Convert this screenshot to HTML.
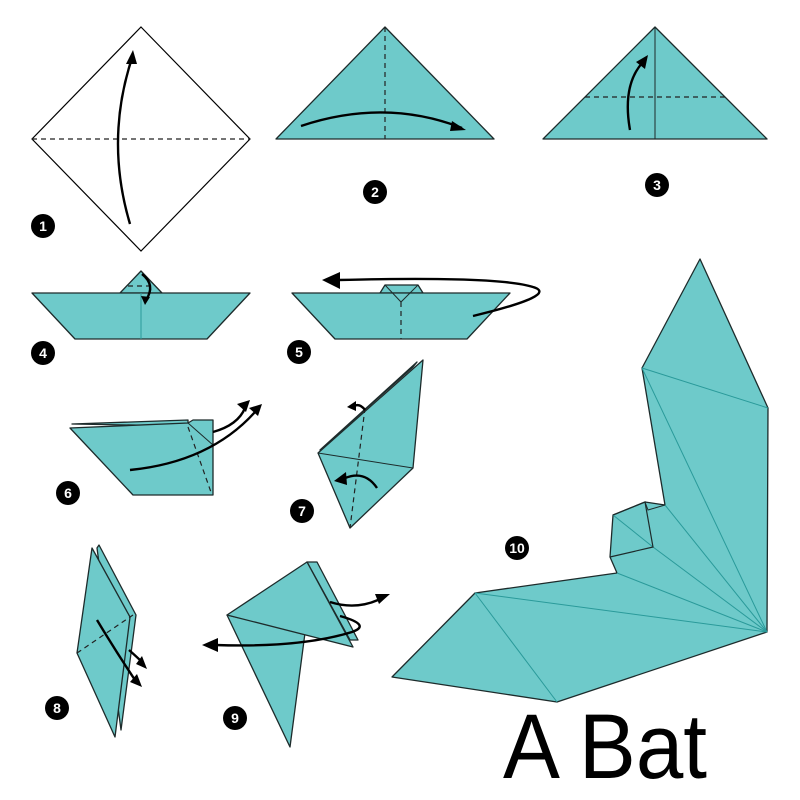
<!DOCTYPE html>
<html><head><meta charset="utf-8"><style>
html,body{margin:0;padding:0;background:#fff;width:800px;height:800px;overflow:hidden}
svg{display:block}
.p{fill:#6ecaca;stroke:#1d2b2b;stroke-width:1.3;stroke-linejoin:round}
.c{stroke:#2a9a9a;stroke-width:1;fill:none}
.d{stroke:#222;stroke-width:1.2;stroke-dasharray:5 4;fill:none}
.a{stroke:#000;stroke-width:2.4;fill:none}
.h{fill:#000}
.n circle{fill:#000}
.n text{fill:#fff;font-family:"Liberation Sans",sans-serif;font-size:14px;font-weight:bold;text-anchor:middle}
</style></head><body>
<svg width="800" height="800" viewBox="0 0 800 800">
<g>
<polygon points="141,27 250,139 141,251 32,139" fill="#fff" stroke="#000" stroke-width="1.2"/>
<line class="d" x1="32" y1="139" x2="250" y2="139"/>
<path class="a" d="M130,224 Q105,140 132,58"/>
<polygon class="h" points="133,50 126,64 137,64"/>
<g class="n"><circle cx="43" cy="226" r="12"/><text x="43" y="231">1</text></g>
</g>
<g>
<polygon class="p" points="276,139 385,27 494,139"/>
<line class="d" x1="385" y1="27" x2="385" y2="139"/>
<path class="a" d="M301,126 Q385,98 462,128"/>
<polygon class="h" points="466,130 452,121 450,131"/>
<g class="n"><circle cx="375" cy="192" r="12"/><text x="375" y="197">2</text></g>
</g>
<g>
<polygon class="p" points="543,139 655,27 767,139"/>
<line x1="655" y1="27" x2="655" y2="139" stroke="#1d2b2b" stroke-width="1"/>
<line class="d" x1="585" y1="97" x2="725" y2="97"/>
<path class="a" d="M630,130 Q622,85 643,62"/>
<polygon class="h" points="648,55 636,62 645,69"/>
<g class="n"><circle cx="657" cy="185" r="12"/><text x="657" y="190">3</text></g>
</g>
<g>
<polygon class="p" points="120,293 141,271 162,293"/>
<polygon class="p" points="32,293 250,293 207,339 75,339"/>
<line class="c" x1="141" y1="293" x2="141" y2="339"/>
<line class="d" x1="128" y1="286" x2="152" y2="286"/>
<path class="a" d="M142,274 Q156,285 146,300" stroke-width="1.6"/>
<polygon class="h" points="145,305 141,296 150,297"/>
<g class="n"><circle cx="43" cy="353" r="12"/><text x="43" y="358">4</text></g>
</g>
<g>
<polygon class="p" points="380,293 385,285 418,285 423,293"/>
<polygon class="p" points="292,293 510,293 467,339 335,339"/>
<polyline points="385,285 401,302 418,285" fill="none" stroke="#1d2b2b" stroke-width="1"/>
<line class="d" x1="401" y1="302" x2="401" y2="339"/>
<path class="a" d="M473,316 Q560,295 533,287 Q500,276 338,280"/>
<polygon class="h" points="322,280 340,272 340,289"/>
<g class="n"><circle cx="299" cy="352" r="12"/><text x="299" y="357">5</text></g>
</g>
<g>
<polygon class="p" points="72,424 188,420 188,426"/>
<polygon class="p" points="70,428 188,423 193,420 213,420 213,495 133,495"/>
<polyline points="188,423 213,445" fill="none" stroke="#1d2b2b" stroke-width="1"/>
<line class="d" x1="188" y1="427" x2="212" y2="495"/>
<path class="a" d="M130,470 Q210,462 255,412"/>
<path class="a" d="M213,432 Q238,425 245,408"/>
<polygon class="h" points="262,404 249,408 258,416"/>
<polygon class="h" points="250,400 237,404 246,412"/>
<g class="n"><circle cx="68" cy="493" r="12"/><text x="68" y="498">6</text></g>
</g>
<g>
<polygon class="p" points="320,450 417,362 413,367"/>
<polygon class="p" points="318,453 423,360 413,468 350,528"/>
<line x1="318" y1="453" x2="413" y2="468" stroke="#1d2b2b" stroke-width="1"/>
<line class="d" x1="365" y1="408" x2="350" y2="528"/>
<path class="a" d="M377,488 Q365,470 345,478"/>
<polygon class="h" points="334,481 346,472 347,485"/>
<path class="a" d="M365,410 Q360,403 354,406" stroke-width="1.6"/>
<polygon class="h" points="347,407 356,401 356,411"/>
<g class="n"><circle cx="302" cy="511" r="12"/><text x="302" y="516">7</text></g>
</g>
<g>
<polygon class="p" points="99,545 136,615 121,730 97,548"/>
<polygon class="p" points="92,548 130,617 115,737 77,653"/>
<line class="d" x1="77" y1="653" x2="133" y2="615"/>
<path class="a" d="M97,620 Q115,650 135,680"/>
<polygon class="h" points="142,687 130,682 137,674"/>
<path class="a" d="M129,650 Q138,658 142,662" stroke-width="1.8"/>
<polygon class="h" points="147,669 136,664 142,656"/>
<g class="n"><circle cx="57" cy="708" r="12"/><text x="57" y="713">8</text></g>
</g>
<g>
<polygon class="p" points="227,615 290,747 305,633"/>
<polygon class="p" points="307,562 317,562 358,640 350,640"/>
<polygon class="p" points="227,615 307,562 353,647"/>
<path class="a" d="M330,602 Q355,610 378,600"/>
<polygon class="h" points="390,594 375,594 379,604"/>
<path class="a" d="M340,616 Q372,625 352,632 Q300,648 215,645"/>
<polygon class="h" points="202,645 218,638 218,652"/>
<g class="n"><circle cx="235" cy="718" r="12"/><text x="235" y="723">9</text></g>
</g>
<g>
<polygon class="p" points="700,259 768,408 767,632 557,702 392,677 475,593 617,573 610,557 613,515 645,502 665,505 642,368"/>
<polyline class="c" points="642,368 768,408"/>
<polyline class="c" points="642,368 767,632"/>
<polyline class="c" points="665,505 767,632"/>
<polyline class="c" points="653,547 767,632"/>
<polyline class="c" points="617,573 767,632"/>
<polyline class="c" points="475,593 767,632"/>
<polyline class="c" points="475,593 557,702"/>
<polyline class="c" points="613,515 653,547"/>
<polyline points="613,515 645,502 653,547 610,557" fill="none" stroke="#1d2b2b" stroke-width="1.2"/>
<polyline points="645,502 648,510 665,505" fill="none" stroke="#1d2b2b" stroke-width="1"/>
<g class="n"><circle cx="517" cy="548" r="12"/><text x="517" y="553" font-size="12">10</text></g>
</g>
<text x="503" y="778" textLength="204" lengthAdjust="spacingAndGlyphs" font-family="Liberation Sans, sans-serif" font-size="92" fill="#000">A Bat</text>
</svg>
</body></html>
